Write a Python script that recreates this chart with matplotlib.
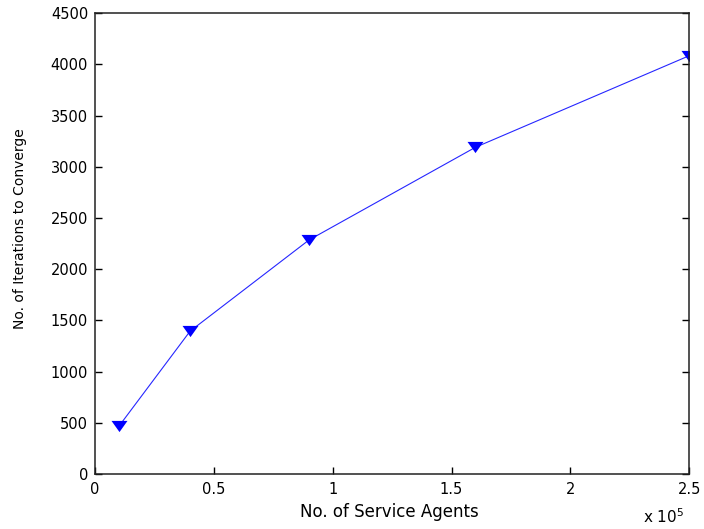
import matplotlib
matplotlib.use('Agg')
import matplotlib.pyplot as plt
import numpy as np

# ── Data ──────────────────────────────────────────────────────────────────────
agents = [10000, 40000, 90000, 160000, 250000]
iterations = [465, 1395, 2285, 3190, 4085]

x_ticks = [0, 0.5, 1, 1.5, 2, 2.5]
x_tick_labels = ['0', '0.5', '1', '1.5', '2', '2.5']
y_ticks = [0, 500, 1000, 1500, 2000, 2500, 3000, 3500, 4000, 4500]

SCALE = 1e5
LINE_COLOR = '#0000FF'
# wide downward triangle, like the MATLAB 'v' marker on screen
TRI = [(-1, 0.7), (1, 0.7), (0, -0.7), (-1, 0.7)]

plt.rcParams['font.family'] = ['DejaVu Sans']

fig = plt.figure(figsize=(7.04, 5.29), dpi=100)
ax = fig.add_axes([0.135, 0.104, 0.844, 0.871])

x = np.array(agents) / SCALE
ax.plot(x, iterations, color=LINE_COLOR, lw=0.8, alpha=0.85)
ax.plot(x, iterations, ls='none', marker=TRI, ms=11.5, color=LINE_COLOR,
        markeredgewidth=0)

ax.set_xlim(0, 2.5)
ax.set_ylim(0, 4500)
ax.set_xticks(x_ticks)
ax.set_xticklabels(x_tick_labels)
ax.set_yticks(y_ticks)

ax.tick_params(direction='in', length=5, width=1, labelsize=10.5, colors='black',
               top=False, right=True)
ax.tick_params(axis='y', right=True, pad=5)
ax.tick_params(axis='x', pad=6)
for sp in ax.spines.values():
    sp.set_linewidth(1.1)
    sp.set_color('#222222')

ax.set_xlabel('No. of Service Agents', fontsize=12)
ax.xaxis.set_label_coords(0.495, -0.063)
fig.text(20 / 704, 1 - 229 / 529, 'No. of Iterations to Converge', fontsize=10,
         rotation=90, ha='center', va='center')

fig.text(643 / 704, 6 / 529, r'x 10$^{5}$', fontsize=11, ha='left', va='baseline')

fig.savefig('out.png', dpi=100)
